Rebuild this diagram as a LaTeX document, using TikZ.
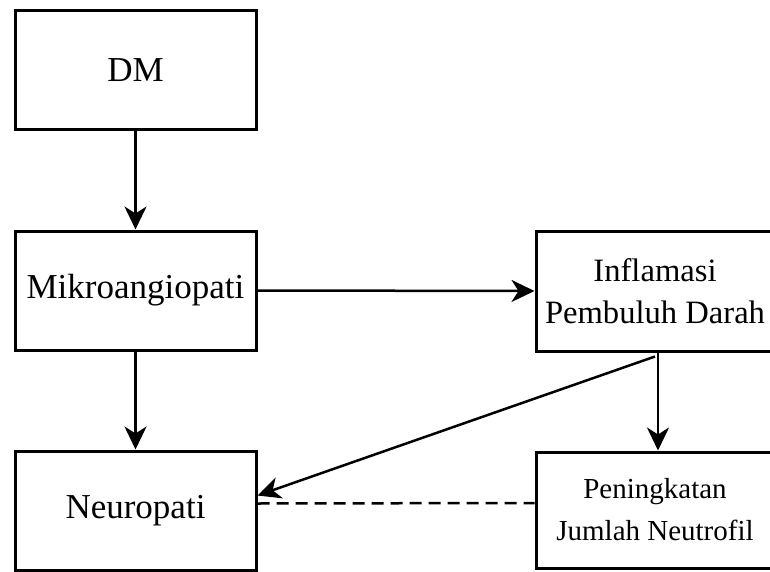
\documentclass[tikz,border=0pt]{standalone}
\usepackage{fontspec}
\setmainfont{Liberation Serif}
\usetikzlibrary{arrows.meta}
\tikzset{
  box/.style={draw, line width=3pt, minimum width=241pt, minimum height=119pt, inner sep=0pt, align=center, font=\fontsize{35}{42}\selectfont},
  rbox/.style={box, minimum width=238pt},
  arr/.style={line width=2.5pt, -{Stealth[length=23pt, width=22pt, inset=7pt]}},
  dashline/.style={line width=2.5pt, dash pattern=on 12pt off 7pt}
}
\begin{document}
\begin{tikzpicture}[x=1pt, y=-1pt]
\useasboundingbox (0,0) rectangle (770,572);
\node[box] (dm) at (135.5,70.5) {DM};
\node[box] (mikro) at (135.5,290.5) {Mikroangiopati};
\node[box] (neuro) at (135.5,510.5) {Neuropati};
\node[rbox, minimum height=120pt, font=\fontsize{32.6}{42}\selectfont] (infl) at (655,291) {Inflamasi\\Pembuluh Darah};
\node[rbox, minimum height=116pt, font=\fontsize{29}{42}\selectfont] (pen) at (655,510) {Peningkatan\\Jumlah Neutrofil};
\draw[arr] (dm.south) -- (mikro.north);
\draw[arr] (mikro.south) -- (neuro.north);
\draw[arr] (mikro.east) -- (infl.west);
\draw[arr] ([xshift=3pt]infl.south) -- ([xshift=3pt]pen.north);
\draw[arr] ([yshift=-4pt]infl.south) -- ([yshift=15pt]neuro.east);
\draw[dashline] ([yshift=7pt]neuro.east) -- ([yshift=7pt]pen.west);
\end{tikzpicture}
\end{document}
